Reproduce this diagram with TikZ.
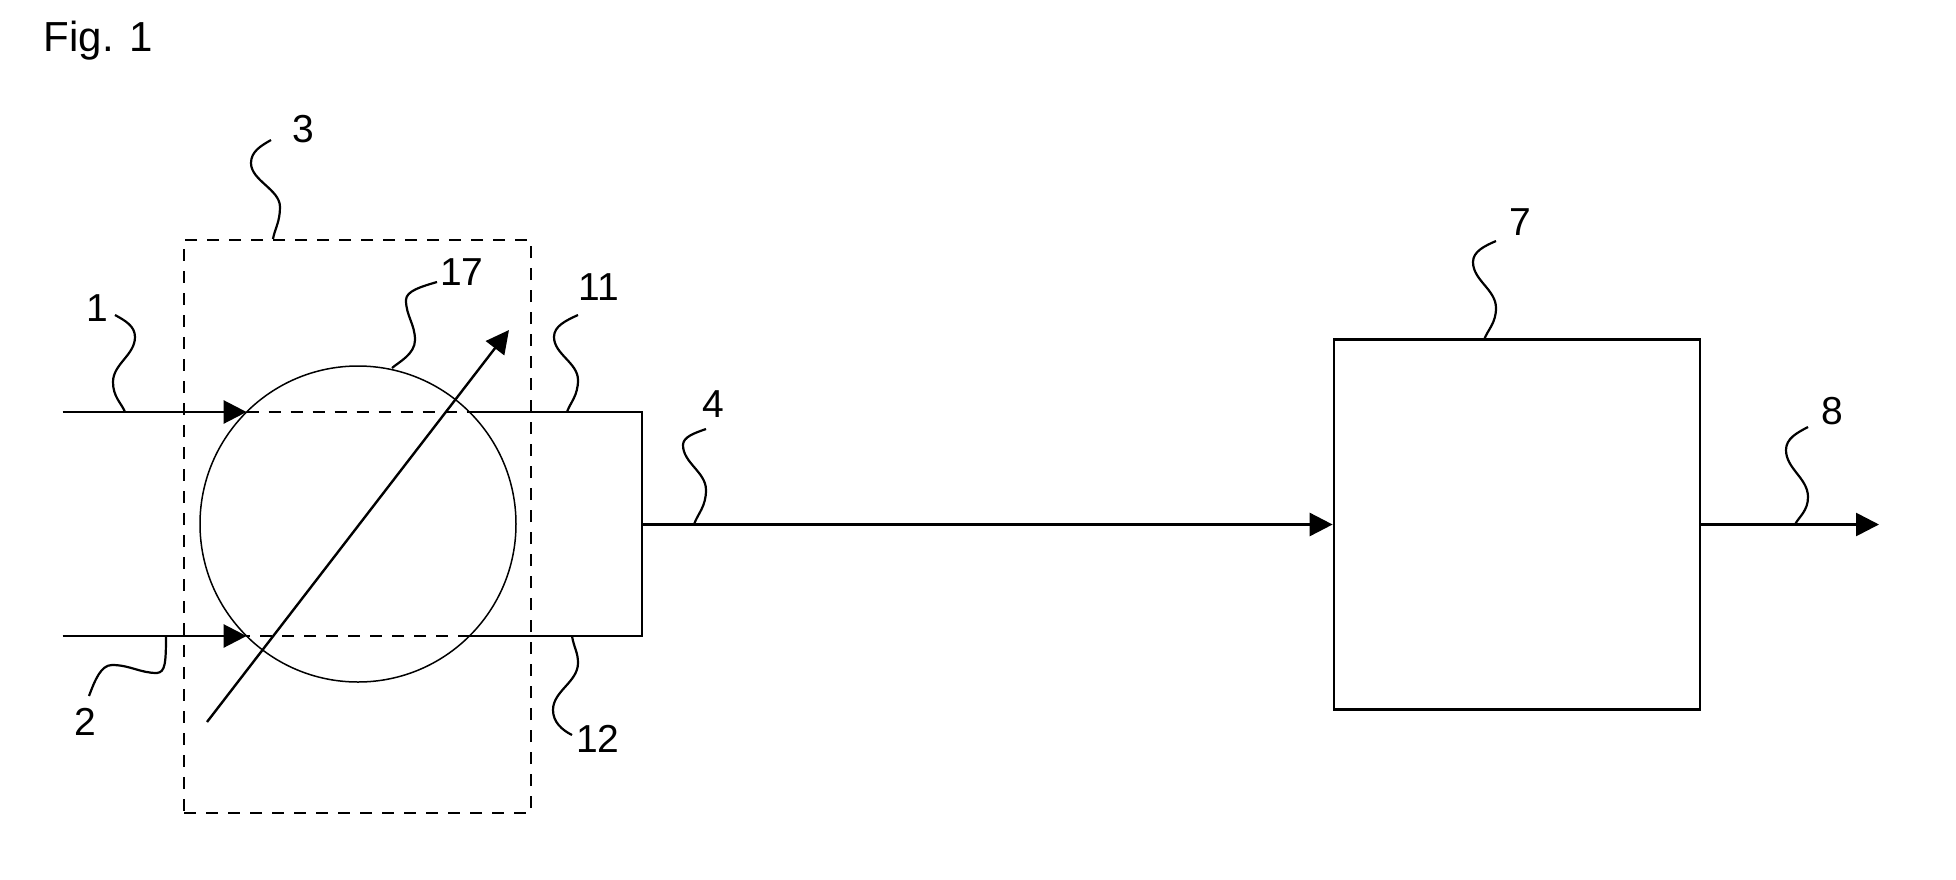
\documentclass[tikz,border=0pt]{standalone}
\usepackage{fontspec}
\setmainfont{Liberation Sans}
\usetikzlibrary{arrows.meta}
\begin{document}
\begin{tikzpicture}[x=0.5pt,y=-0.5pt,
  line/.style={line width=1.35pt},
  flow/.style={line, -{Triangle[length=11.5pt,width=11.5pt]}},
  dashline/.style={line width=1.35pt, dash pattern=on 6pt off 5pt},
  leader/.style={line width=1.1pt},
  lbl/.style={inner sep=0pt, font=\fontsize{19.5pt}{22pt}\selectfont}]
\useasboundingbox (0,0) rectangle (1956,879);

% caption
\node[inner sep=0pt, anchor=base west, font=\fontsize{21pt}{25pt}\selectfont] (fig) at (43.5,51.7) {Fig. 1};

% main elements
\node[draw, line width=1.25pt, dash pattern=on 6pt off 5pt, minimum width=173.5pt, minimum height=286.5pt, inner sep=0pt] (unit3) at (357.5,526.5) {};
\node[draw, circle, line width=0.75pt, minimum size=158pt, inner sep=0pt] (hx) at (358,524) {};
\node[draw, line, minimum width=183pt, minimum height=185pt, inner sep=0pt] (unit7) at (1517,524.5) {};

% coordinates
\coordinate (in1) at (62.5,412);
\coordinate (in2) at (62.5,636);
\coordinate (h1w) at (246.6,412);
\coordinate (h1e) at (469.5,412);
\coordinate (h2w) at (246.6,636);
\coordinate (h2e) at (469.5,636);
\coordinate (j1) at (642,412);
\coordinate (j2) at (642,636);
\coordinate (jm) at (642,524.5);
\coordinate (out8) at (1879,524.5);
\coordinate (dA) at (207,722);
\coordinate (dB) at (509,330);

% flows
\draw[flow] (in1) -- (h1w);
\draw[dashline] (h1w) -- (h1e);
\draw[line] (h1e) -- (j1) -- (j2) -- (h2e);
\draw[dashline] (h2e) -- (h2w);
\draw[flow] (in2) -- (h2w);
\draw[flow] (jm) -- (unit7.west);
\draw[flow] (unit7.east) -- (out8);
\draw[line width=1.2pt, -{Triangle[length=11.5pt,width=11.5pt]}] (dA) -- (dB);

% labels
\node[lbl] (l1) at (97.5,308) {1};
\node[lbl] (l2) at (85,722) {2};
\node[lbl] (l3) at (303,129) {3};
\node[lbl] (l17) at (462,272.5) {17};
\node[lbl] (l11) at (598.5,287.5) {11};
\node[lbl] (l12) at (598,739) {12};
\node[lbl] (l4) at (713,404) {4};
\node[lbl] (l7) at (1520,222.5) {7};
\node[lbl] (l8) at (1832,411) {8};

% leaders
\draw[leader] (115,315) .. controls (125,320.5) and (135,326) .. (135,337)
  .. controls (135,355) and (113,364) .. (113,382)
  .. controls (113,397) and (121.4,403) .. (125,412);
\draw[leader] (89,696) .. controls (95,680) and (101,665) .. (112,665)
  .. controls (130,665) and (140,673) .. (157,673)
  .. controls (165,672) and (166,664) .. (166,636);
\draw[leader] (271,140) .. controls (261,145.75) and (251,151.5) .. (251,163)
  .. controls (251,180.6) and (280,189.4) .. (280,207)
  .. controls (280,222) and (275,228) .. (273,239);
\draw[leader] (437,282) .. controls (421.5,286.5) and (406,291) .. (406,300)
  .. controls (406,316) and (415,324) .. (415,340)
  .. controls (415,354) and (399,362) .. (392,368);
\draw[leader] (578,315) .. controls (566,320.5) and (554,326) .. (554,337)
  .. controls (554,354.2) and (578,362.8) .. (578,380)
  .. controls (578,396) and (570.3,402.4) .. (567,412);
\draw[leader] (572,636) .. controls (574,648) and (578,652) .. (578,663)
  .. controls (578,682) and (553,691) .. (553,710)
  .. controls (553,722) and (562,730) .. (572,735);
\draw[leader] (706,429) .. controls (694.5,433) and (683,437) .. (683,445)
  .. controls (683,463) and (706,472) .. (706,490)
  .. controls (706,507) and (697.6,513.8) .. (694,524.5);
\draw[leader] (1496,241) .. controls (1484.5,246) and (1473,251.5) .. (1473,262)
  .. controls (1473,280.4) and (1496,289.6) .. (1496,308)
  .. controls (1496,323.5) and (1487.6,329.7) .. (1484,340);
\draw[leader] (1808,427) .. controls (1797,432.75) and (1786,438.5) .. (1786,450)
  .. controls (1786,468.8) and (1808,478.2) .. (1808,497)
  .. controls (1808,511) and (1799,516.6) .. (1795,524.5);
\end{tikzpicture}
\end{document}
